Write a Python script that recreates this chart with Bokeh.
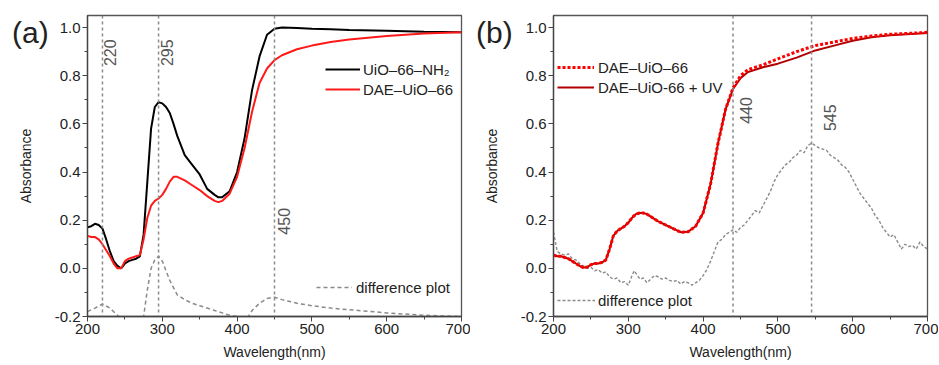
import math
from bokeh.plotting import figure
from bokeh.layouts import row, column
from bokeh.models import Span, Label, Legend, LegendItem, Range1d, FixedTicker, PrintfTickFormatter, Div
from bokeh.embed import file_html
from bokeh.resources import INLINE

# ---------------- data ----------------
x_ticks = [200, 300, 400, 500, 600, 700]
x_minor = [250, 350, 450, 550, 650]
y_ticks = [-0.2, 0.0, 0.2, 0.4, 0.6, 0.8, 1.0]
y_minor = [-0.1, 0.1, 0.3, 0.5, 0.7, 0.9]
panel_tags = ["(a)", "(b)"]

# panel (a)
wl_a = [200, 205, 210, 215, 220, 225, 230, 235, 240, 245, 250, 255, 260, 265, 270, 275, 280, 285, 290, 295,
        300, 305, 310, 315, 320, 330, 340, 350, 360, 370, 375, 380, 390, 400, 410, 420, 430, 440, 450, 460,
        480, 500, 525, 550, 600, 650, 700]
uio_nh2 = [0.17, 0.175, 0.185, 0.18, 0.165, 0.12, 0.07, 0.03, 0.01, 0.0, 0.02, 0.03, 0.035, 0.04, 0.05, 0.14,
           0.36, 0.58, 0.67, 0.69, 0.685, 0.67, 0.645, 0.6, 0.55, 0.47, 0.43, 0.39, 0.33, 0.305, 0.295, 0.295,
           0.32, 0.40, 0.54, 0.74, 0.88, 0.97, 0.995, 1.0, 0.998, 0.995, 0.993, 0.99, 0.987, 0.983, 0.98]
dae_uio = [0.135, 0.13, 0.13, 0.12, 0.10, 0.075, 0.05, 0.02, 0.0, 0.0, 0.03, 0.04, 0.045, 0.05, 0.055, 0.12,
           0.21, 0.26, 0.28, 0.29, 0.305, 0.33, 0.36, 0.38, 0.38, 0.365, 0.345, 0.325, 0.30, 0.28, 0.275, 0.28,
           0.31, 0.38, 0.50, 0.65, 0.77, 0.83, 0.865, 0.885, 0.91, 0.925, 0.94, 0.95, 0.965, 0.975, 0.98]
dwl_a = [200, 210, 220, 230, 240, 250, 260, 270, 275, 280, 285, 290, 295, 300, 305, 310, 320, 330, 340, 350,
         360, 370, 380, 390, 400, 410, 415, 420, 430, 440, 450, 460, 480, 500, 525, 550, 600, 650, 700]
diff_a = [-0.18, -0.165, -0.148, -0.165, -0.195, -0.215, -0.22, -0.215, -0.2, -0.09, 0.0, 0.035, 0.05, 0.03,
          -0.01, -0.05, -0.11, -0.13, -0.145, -0.155, -0.165, -0.175, -0.185, -0.195, -0.2, -0.205, -0.2,
          -0.175, -0.145, -0.125, -0.12, -0.13, -0.145, -0.155, -0.165, -0.172, -0.185, -0.195, -0.2]
marks_a = [220, 295, 450]

# panel (b)
wl_b = [200, 205, 210, 215, 220, 225, 230, 235, 240, 245, 250, 255, 260, 265, 270, 275, 280, 285, 290, 295,
        300, 305, 310, 315, 320, 325, 330, 340, 350, 360, 370, 380, 390, 400, 410, 420, 430, 440, 450, 460,
        480, 500, 525, 550, 575, 600, 625, 650, 700]
dae_uv = [0.055, 0.05, 0.05, 0.045, 0.04, 0.03, 0.02, 0.01, 0.003, 0.005, 0.015, 0.02, 0.02, 0.025, 0.035,
          0.08, 0.135, 0.155, 0.165, 0.175, 0.19, 0.21, 0.225, 0.23, 0.23, 0.225, 0.215, 0.195, 0.18, 0.165,
          0.15, 0.152, 0.175, 0.23, 0.35, 0.52, 0.66, 0.745, 0.79, 0.815, 0.835, 0.85, 0.875, 0.905, 0.925,
          0.945, 0.96, 0.968, 0.977]
dae_b = [0.055, 0.05, 0.05, 0.045, 0.04, 0.03, 0.02, 0.01, 0.003, 0.005, 0.015, 0.02, 0.02, 0.025, 0.035,
         0.08, 0.135, 0.155, 0.165, 0.175, 0.19, 0.21, 0.225, 0.23, 0.23, 0.225, 0.215, 0.195, 0.18, 0.165,
         0.15, 0.152, 0.175, 0.23, 0.35, 0.52, 0.66, 0.75, 0.80, 0.825, 0.845, 0.87, 0.90, 0.925, 0.94,
         0.955, 0.965, 0.972, 0.98]
dwl_b = [200, 205, 210, 215, 220, 225, 230, 235, 240, 245, 250, 255, 260, 265, 270, 275, 280, 285, 290, 295,
         300, 305, 308, 312, 316, 320, 325, 330, 335, 340, 345, 350, 355, 360, 365, 370, 375, 380, 385, 390,
         395, 400, 405, 410, 415, 420, 425, 430, 435, 440, 445, 450, 455, 460, 465, 470, 475, 480, 485, 490,
         495, 500, 505, 510, 515, 520, 525, 530, 535, 540, 545, 550, 555, 560, 565, 570, 575, 580, 585, 590,
         595, 600, 605, 610, 615, 620, 625, 630, 635, 640, 645, 650, 655, 660, 665, 670, 675, 680, 685, 690,
         695, 700]
diff_b = [0.15, 0.07, 0.06, 0.055, 0.06, 0.04, 0.035, 0.02, 0.01, 0.0, 0.005, -0.01, -0.005, -0.02, -0.015,
          -0.035, -0.045, -0.04, -0.06, -0.055, -0.07, -0.03, -0.01, -0.03, -0.045, -0.04, -0.06, -0.045,
          -0.03, -0.035, -0.045, -0.04, -0.05, -0.055, -0.05, -0.065, -0.055, -0.06, -0.07, -0.06, -0.05,
          -0.03, -0.005, 0.03, 0.07, 0.11, 0.12, 0.14, 0.15, 0.16, 0.15, 0.17, 0.18, 0.2, 0.22, 0.24, 0.23,
          0.26, 0.29, 0.32, 0.36, 0.39, 0.41, 0.43, 0.44, 0.46, 0.47, 0.49, 0.48, 0.51, 0.52, 0.51, 0.50,
          0.495, 0.49, 0.47, 0.46, 0.45, 0.43, 0.42, 0.40, 0.37, 0.34, 0.31, 0.29, 0.27, 0.25, 0.22, 0.2,
          0.17, 0.15, 0.13, 0.14, 0.11, 0.08, 0.1, 0.09, 0.095, 0.08, 0.11, 0.09, 0.08]
marks_b = [440, 545]

FONT = "Liberation Sans"
GRAY = "#8a8a8a"
TXT = "#222222"
H = 365


def make_fig(width, left, right):
    p = figure(width=width, height=H, output_backend="svg", toolbar_location=None,
               x_range=Range1d(200, 700), y_range=Range1d(-0.2, 1.05),
               min_border_left=left, min_border_right=right, min_border_top=15, min_border_bottom=49)
    p.grid.visible = False
    p.border_fill_alpha = 0
    p.outline_line_color = "#555555"
    p.outline_line_width = 1.3
    p.xaxis.ticker = FixedTicker(ticks=x_ticks, minor_ticks=x_minor)
    p.yaxis.ticker = FixedTicker(ticks=y_ticks, minor_ticks=y_minor)
    p.yaxis.formatter = PrintfTickFormatter(format="%.1f")
    p.xaxis.axis_label = "Wavelength(nm)"
    p.yaxis.axis_label = "Absorbance"
    for ax in p.xaxis + p.yaxis:
        ax.axis_line_color = "#444444"
        ax.axis_line_width = 1.3
        ax.major_tick_line_color = "#444444"
        ax.minor_tick_line_color = "#444444"
        ax.major_tick_in = 0
        ax.major_tick_out = 5
        ax.minor_tick_in = 0
        ax.minor_tick_out = 3
        ax.major_label_text_font = FONT
        ax.major_label_text_font_size = "15px"
        ax.major_label_text_color = TXT
        ax.axis_label_text_font = FONT
        ax.axis_label_text_font_size = "14px"
        ax.axis_label_text_font_style = "normal"
        ax.axis_label_text_color = TXT
    p.xaxis.major_label_standoff = 2
    p.xaxis.axis_label_standoff = 7
    p.yaxis.major_label_standoff = 2
    p.yaxis.axis_label_standoff = 18
    return p


def add_marks(p, marks, ypos, offsets):
    for m, yy, off in zip(marks, ypos, offsets):
        p.add_layout(Span(location=m, dimension="height", line_color=GRAY, line_dash="3 3", line_width=1.5))
        p.add_layout(Label(x=m, y=yy, text=str(m), angle=math.pi / 2, x_offset=off,
                           text_align="left", text_baseline="top", text_font=FONT,
                           text_font_size="16px", text_color="#555555"))


def make_legend(items, loc, gw, standoff):
    lg = Legend(items=items, location=loc, glyph_width=gw, glyph_height=20, label_height=20,
                label_standoff=standoff, padding=0, spacing=0, margin=0,
                background_fill_alpha=0, border_line_alpha=0,
                label_text_font=FONT, label_text_font_size="15px", label_text_color=TXT)
    return lg


# ---------------- panel (a) ----------------
pa = make_fig(470, 87, 9)
add_marks(pa, marks_a, [0.84, 0.84, 0.14], [2, 2, 3])
rd = pa.line(dwl_a, diff_a, line_color=GRAY, line_dash="4 3", line_width=1.5)
rk = pa.line(wl_a, uio_nh2, line_color="#000000", line_width=2)
rr = pa.line(wl_a, dae_uio, line_color="#ff1a1a", line_width=2)
pa.add_layout(make_legend([LegendItem(label="UiO‒66‒NH₂", renderers=[rk]),
                           LegendItem(label="DAE‒UiO‒66", renderers=[rr])], (238, 217), 35, 3))
pa.add_layout(make_legend([LegendItem(label="difference plot", renderers=[rd])], (229, 19), 36, 4))

# ---------------- panel (b) ----------------
pb = make_fig(468, 83, 11)
add_marks(pb, marks_b, [0.60, 0.57], [7, 12])
rdb = pb.line(dwl_b, diff_b, line_color=GRAY, line_dash="3 2", line_width=1.4)
ruv = pb.line(wl_b, dae_uv, line_color="#b00000", line_width=2)
rdot = pb.line(wl_b, dae_b, line_color="#ff0000", line_width=3, line_dash="3 2")
pb.add_layout(make_legend([LegendItem(label="DAE‒UiO‒66", renderers=[rdot]),
                           LegendItem(label="DAE‒UiO-66 + UV", renderers=[ruv])], (4, 219), 37, 4))
pb.add_layout(make_legend([LegendItem(label="difference plot", renderers=[rdb])], (4, 6), 38, 3))

# panel tags "(a)" / "(b)" as an HTML overlay on top of the figures
span_css = ("position:absolute;top:18px;font-family:'Liberation Sans';font-size:30px;"
            "line-height:30px;color:%s;white-space:nowrap;" % TXT)
tag_html = ('<span style="%sleft:12px;">%s</span><span style="%sleft:476px;">%s</span>'
            % (span_css, panel_tags[0], span_css, panel_tags[1]))
tags = Div(text=tag_html, width=600, height=10, margin=(-H, 0, 0, 0),
           styles={"position": "relative", "z-index": "10"})

layout = column(row(pa, pb), tags)
open("out.html", "w").write(file_html(layout, INLINE))
